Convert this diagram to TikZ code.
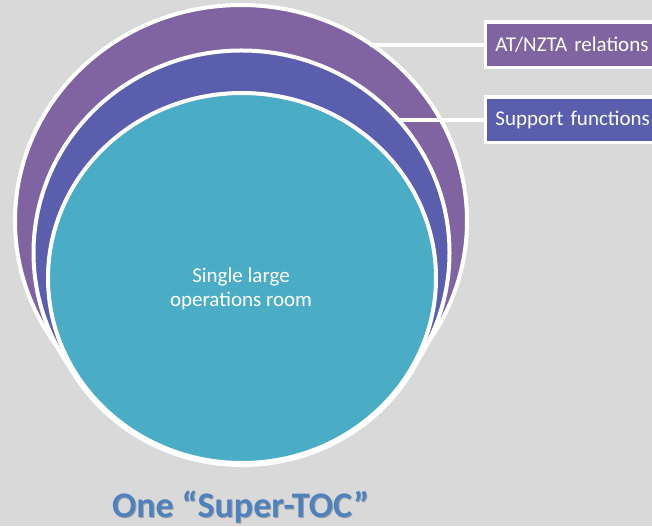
\documentclass[tikz,border=0pt]{standalone}
\usepackage{fontspec}
\setmainfont{Carlito}
\usetikzlibrary{shapes.geometric}
\definecolor{bggray}{HTML}{D9D9D9}
\definecolor{ringpurple}{HTML}{8064A2}
\definecolor{ringblue}{HTML}{5A5EAD}
\definecolor{roomteal}{HTML}{4BACC6}
\definecolor{titleblue}{HTML}{4F81BD}
\begin{document}
\begin{tikzpicture}[x=0.75pt,y=-0.75pt,
    ring/.style={ellipse,draw=white,line width=3pt,inner sep=0pt,outer sep=0pt},
    hug/.style={draw=white,line width=3pt},
    tag/.style={draw=white,line width=2.4pt,anchor=west,outer sep=0pt,
      minimum height=34.1pt,text width=140pt,inner xsep=7.6pt,align=left,
      text=white,font=\fontsize{15.75}{18}\selectfont},
    link/.style={draw=white,line width=2.8pt}]
  \useasboundingbox (0,0) rectangle (652,526);
  \clip (0,0) rectangle (652,526);
  \fill[bggray] (0,0) rectangle (652,526);
  % outer ring, its foot hugging the room
  \draw[hug] (242,278) ellipse [x radius=196,y radius=187];
  \node[ring,fill=ringpurple,minimum width=339pt,minimum height=324pt] (outer) at (241,221) {};
  \fill[ringpurple] (242,278) ellipse [x radius=196,y radius=187];
  % middle ring
  \draw[hug] (242,278) ellipse [x radius=195,y radius=186];
  \node[ring,fill=ringblue,minimum width=312pt,minimum height=303.4pt] (middle) at (241.5,252.75) {};
  \fill[ringblue] (242,278) ellipse [x radius=195,y radius=186];
  % operations room
  \node[ring,fill=roomteal,minimum width=291pt,minimum height=277.5pt] (room) at (242,278) {};
  \node[text=white,align=center,font=\fontsize{15.75}{18}\selectfont] (roomtext) at (241,289) {Single large\\operations room};
  % labels on the right
  \node[tag,fill=ringpurple] (atnzta) at (485.3,44.75) {AT/NZTA relations};
  \node[tag,fill=ringblue] (support) at (485.3,119.75) {Support functions};
  \draw[link] (atnzta.west) -- (outer.54 |- atnzta.west);
  \draw[link] (support.west) -- (middle.40 |- support.west);
  % caption
  \node[anchor=base,text=black,opacity=0.25,font=\bfseries\fontsize{27}{31}\selectfont] (titleshadow) at (241.5,518.5) {One “Super-TOC”};
  \node[anchor=base,text=titleblue,font=\bfseries\fontsize{27}{31}\selectfont] (title) at (240.5,517) {One “Super-TOC”};
\end{tikzpicture}
\end{document}
